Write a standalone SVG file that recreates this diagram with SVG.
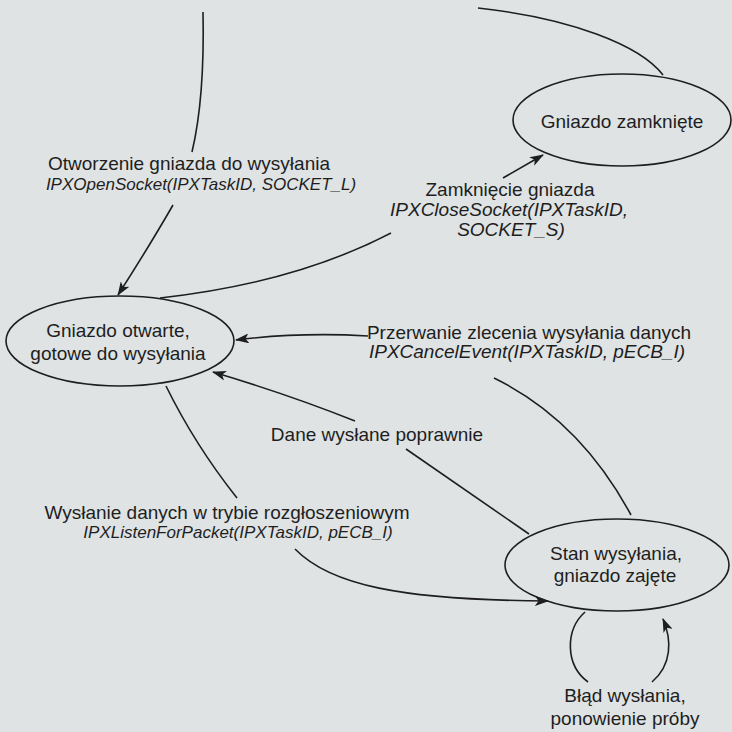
<svg xmlns="http://www.w3.org/2000/svg" width="732" height="732" viewBox="0 0 732 732">
<defs>
<style>
.bg{fill:#dfe3e4}
.node ellipse{fill:none;stroke:#1e1e1e;stroke-width:1.6}
text{font-family:"Liberation Sans",Arial,sans-serif;font-size:19px;fill:#1e1e1e;text-anchor:middle}
.it{font-style:italic}
.sm{font-size:17px}
.conn path{fill:none;stroke:#1e1e1e;stroke-width:1.6}
</style>
<marker id="arr" markerUnits="userSpaceOnUse" viewBox="0 0 14 10" markerWidth="14" markerHeight="10" refX="13" refY="5" orient="auto">
<path d="M0,0 L14,5 L0,10 L3.5,5 z" fill="#1e1e1e"/>
</marker>
</defs>
<rect class="bg" x="0" y="0" width="732" height="732"/>

<g id="node-zamkniete" class="node">
<ellipse cx="622" cy="120" rx="109" ry="46"/>
<text x="622" y="128">Gniazdo zamknięte</text>
</g>
<g id="node-otwarte" class="node">
<ellipse cx="120" cy="341" rx="114" ry="45"/>
<text x="118" y="337">Gniazdo otwarte,</text>
<text x="118" y="360">gotowe do wysyłania</text>
</g>
<g id="node-stan" class="node">
<ellipse cx="617" cy="565" rx="112" ry="46"/>
<text x="616" y="560">Stan wysyłania,</text>
<text x="615" y="582">gniazdo zajęte</text>
</g>

<g id="connectors" class="conn">
<path d="M663,75 C640,45 570,18 478,8"/>
<path d="M203,12 C204,60 202,110 192,152"/>
<path d="M173,205 Q150,245 118,295" marker-end="url(#arr)"/>
<path d="M391,233 Q295,283 160,298"/>
<path d="M503,178 L543,155" marker-end="url(#arr)"/>
<path d="M494,378 Q580,420 631,515"/>
<path d="M368,336 Q300,332 236,340" marker-end="url(#arr)"/>
<path d="M529,534 L406,449"/>
<path d="M355,421 Q290,395 213,372" marker-end="url(#arr)"/>
<path d="M166,386 Q195,445 237,498"/>
<path d="M295,549 C330,585 400,600 548,601" marker-end="url(#arr)"/>
<path d="M585,612 C565,630 565,665 588,682"/>
<path d="M652,682 C672,665 672,640 663,619" marker-end="url(#arr)"/>
</g>

<g id="labels">
<text x="189" y="170">Otworzenie gniazda do wysyłania</text>
<text class="it sm" x="201" y="190">IPXOpenSocket(IPXTaskID, SOCKET_L)</text>
<text x="510" y="196">Zamknięcie gniazda</text>
<text class="it" x="509" y="216">IPXCloseSocket(IPXTaskID,</text>
<text class="it" x="511" y="236">SOCKET_S)</text>
<text x="529" y="339">Przerwanie zlecenia wysyłania danych</text>
<text class="it" x="527" y="358">IPXCancelEvent(IPXTaskID, pECB_I)</text>
<text x="377" y="441">Dane wysłane poprawnie</text>
<text x="227" y="519">Wysłanie danych w trybie rozgłoszeniowym</text>
<text class="it sm" x="238" y="538">IPXListenForPacket(IPXTaskID, pECB_I)</text>
<text x="625" y="702">Błąd wysłania,</text>
<text x="625" y="725">ponowienie próby</text>
</g>
</svg>
